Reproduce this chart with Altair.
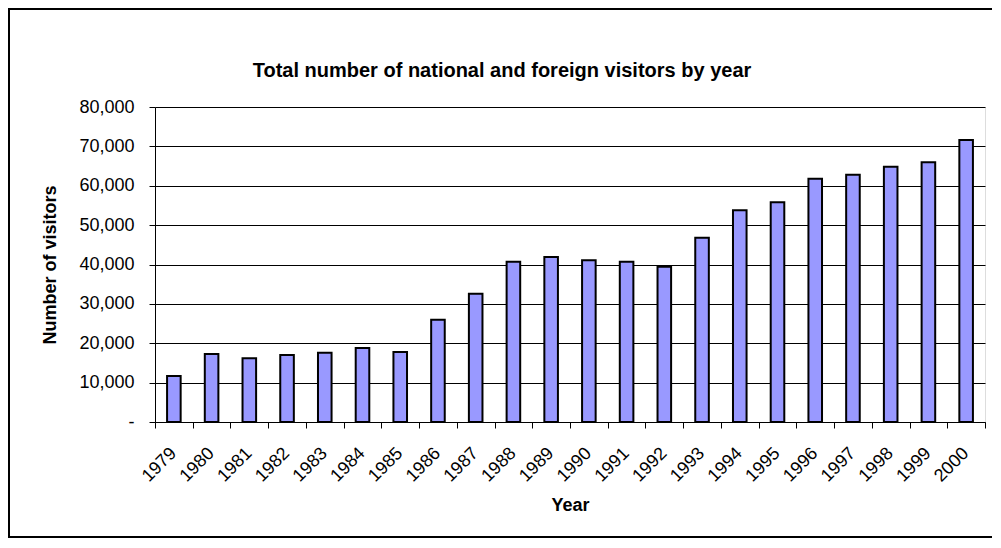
import altair as alt
import pandas as pd

years = [str(y) for y in range(1979, 2001)]
visitors = [11700, 17300, 16200, 17000, 17600, 18800, 17800, 26000, 32600, 40700,
            41900, 41100, 40700, 39400, 46800, 53800, 55800, 61800, 62800, 64800,
            66000, 71600]
y_ticks = [0, 10000, 20000, 30000, 40000, 50000, 60000, 70000, 80000]
title_text = "Total number of national and foreign visitors by year"

df = pd.DataFrame({"Year": years, "Visitors": visitors})

FONT = "Liberation Sans"
NB = "\u00a0"
FS = 18

bars = alt.Chart(df).mark_bar(
    width={"band": 0.36}, fill="#9999FF", stroke="black", strokeWidth=2
).encode(
    x=alt.X("Year:N", sort=years,
            scale=alt.Scale(paddingInner=0, paddingOuter=0),
            axis=alt.Axis(title="Year", labelAngle=-45, labelAlign="right",
                          labelBaseline="top", labelPadding=16, labelOffset=-7,
                          tickBand="extent", tickSize=6, tickColor="black",
                          domainColor="black", labelFontSize=FS, labelFont=FONT,
                          labelColor="black", titleFontSize=FS, titleFont=FONT,
                          titleFontWeight="bold", titleColor="black",
                          titleX=415, titleY=83, titleBaseline="middle",
                          titleAlign="center", grid=False)),
    y=alt.Y("Visitors:Q",
            scale=alt.Scale(domain=[0, 80000], nice=False),
            axis=alt.Axis(title="Number of visitors", values=y_ticks,
                          labelExpr=f"datum.value == 0 ? '-{NB*4}' : format(datum.value, ',')",
                          tickSize=6, labelPadding=15, tickColor="black",
                          domainColor="black", labelFontSize=FS, labelFont=FONT,
                          labelColor="black", titleFontSize=FS, titleFont=FONT,
                          titleFontWeight="bold", titleColor="black",
                          titleAngle=-90, titleX=-105, titleY=157.5,
                          titleBaseline="middle", titleAlign="center",
                          grid=True, gridColor="black", gridWidth=1)),
)

one = alt.Data(values=[{"t": title_text}])
frame_left = alt.Chart(one).mark_rule(color="black", strokeWidth=2).encode(
    x=alt.value(-146), y=alt.value(-98), y2=alt.value(430))
frame_top = alt.Chart(one).mark_rule(color="black", strokeWidth=2).encode(
    x=alt.value(-147), x2=alt.value(837), y=alt.value(-98))
frame_bottom = alt.Chart(one).mark_rule(color="black", strokeWidth=2).encode(
    x=alt.value(-147), x2=alt.value(837), y=alt.value(430))

title = alt.Chart(one).mark_text(
    font=FONT, fontSize=20, fontWeight="bold", color="black",
    align="center", baseline="middle"
).encode(text="t:N", x=alt.value(347), y=alt.value(-36))

chart = alt.layer(bars, frame_left, frame_top, frame_bottom, title).properties(
    width=830, height=315,
    autosize=alt.AutoSizeParams(type="none"),
    padding={"left": 147, "top": 99, "right": 8, "bottom": 116},
).configure_view(
    stroke="#808080", strokeWidth=2, fill="#C0C0C0"
).configure(background="white")

chart.save("out.html", embed_options={"renderer": "svg", "actions": False})
